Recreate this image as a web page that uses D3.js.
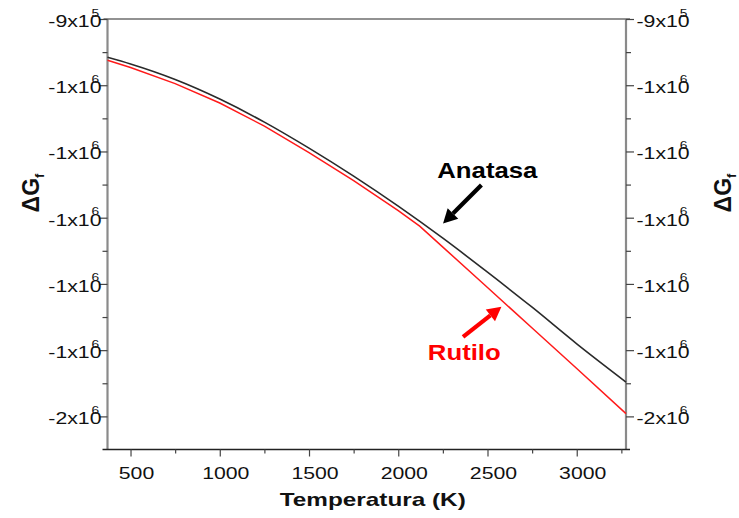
<!DOCTYPE html>
<html>
<head>
<meta charset="utf-8">
<script src="https://cdn.jsdelivr.net/npm/d3@7"></script>
<style>
  html, body { margin: 0; padding: 0; background: #fff; }
  svg { display: block; font-family: "Liberation Sans", Arial, Helvetica, sans-serif; }
</style>
</head>
<body>
<svg id="chart" width="739" height="518"></svg>
<script>
// Free energy of formation of TiO2 polymorphs vs temperature
const anatasaT = [371, 500, 750, 1000, 1250, 1500, 1750, 2000, 2250, 2500, 2750, 3000, 3276];
const anatasaG = [-957900, -968000, -991400, -1020900, -1055700, -1095000, -1137300,
                  -1182600, -1231000, -1282300, -1335200, -1390400, -1448100];

const rutiloT = [371, 500, 750, 1000, 1250, 1500, 1750, 2000, 2120, 2250, 2500, 2750, 3000, 3276];
const rutiloG = [-962400, -973300, -997500, -1026900, -1061700, -1101700, -1144100,
                 -1189400, -1212800, -1244400, -1305500, -1366500, -1427700, -1495900];

const xTicks = [500, 1000, 1500, 2000, 2500, 3000];
const xMinorTicks = [750, 1250, 1750, 2250, 2750, 3250];
const yTicks = [-900000, -1000000, -1100000, -1200000, -1300000, -1400000, -1500000];
const yMinorTicks = [-950000, -1050000, -1150000, -1250000, -1350000, -1450000];

// Labels with arrows, anchored in data coordinates: [T, G]
const annotations = [
  { name: "Anatasa", color: "#000", text: [2499, -1140200], tail: [2466, -1150800], tip: [2251, -1208600] },
  { name: "Rutilo",  color: "#ff0000", text: [2370, -1415100], tail: [2363, -1379900], tip: [2578, -1334600] }
];

const svg = d3.select("#chart");
const plot = { left: 107.5, right: 626, top: 19, bottom: 449.5 };

const x = d3.scaleLinear().domain([371, 3276]).range([plot.left, plot.right]);
const y = d3.scaleLinear().domain([-1550000, -900000]).range([plot.bottom, plot.top]);

const STRETCH = 1.25;
const tickFont = 17;

// frame: gray verticals and top line, dark baseline
const frame = svg.append("g");
frame.append("line").attr("x1", plot.left).attr("x2", plot.left).attr("y1", plot.top).attr("y2", plot.bottom)
  .attr("stroke", "#8a8a8a").attr("stroke-width", 2.2);
frame.append("line").attr("x1", plot.right).attr("x2", plot.right).attr("y1", plot.top).attr("y2", plot.bottom)
  .attr("stroke", "#8a8a8a").attr("stroke-width", 2.2);
frame.append("line").attr("x1", plot.left - 4).attr("x2", plot.right + 4).attr("y1", plot.top).attr("y2", plot.top)
  .attr("stroke", "#6e6e6e").attr("stroke-width", 1.4);
frame.append("line").attr("x1", plot.left - 5).attr("x2", plot.right + 4).attr("y1", plot.bottom).attr("y2", plot.bottom)
  .attr("stroke", "#222").attr("stroke-width", 1.6);

// y axes (tick marks; labels drawn separately)
function yTickMarks(side) {
  const xpos = side === "left" ? plot.left : plot.right;
  [[yTicks, 8], [yMinorTicks, 5]].forEach(([vals, size]) => {
    const axis = side === "left" ? d3.axisLeft(y) : d3.axisRight(y);
    const g = svg.append("g").attr("transform", `translate(${xpos},0)`)
      .call(axis.tickValues(vals).tickSize(size).tickFormat(""));
    g.select(".domain").remove();
    g.selectAll(".tick line").attr("stroke", "#444").attr("stroke-width", 1.2);
  });
}
yTickMarks("left");
yTickMarks("right");

// x axis ticks
[[xTicks, 7], [xMinorTicks, 4]].forEach(([vals, size]) => {
  const g = svg.append("g").attr("transform", `translate(0,${plot.bottom})`)
    .call(d3.axisBottom(x).tickValues(vals).tickSize(size).tickFormat(""));
  g.select(".domain").remove();
  g.selectAll(".tick line").attr("stroke", "#444").attr("stroke-width", 1.2);
});

// x tick labels
svg.append("g").selectAll("text").data(xTicks).join("text")
  .attr("transform", d => `translate(${x(d) + 6},${plot.bottom + 29}) scale(${STRETCH},1)`)
  .attr("text-anchor", "middle").attr("font-size", tickFont).attr("fill", "#111")
  .text(d => d);

// scientific labels: mantissa "x10" plus a raised exponent
function sciParts(v) {
  const e = Math.floor(Math.log10(Math.abs(v)) + 1e-9);
  const m = Math.sign(v) * Math.round(Math.abs(v) / Math.pow(10, e));
  return { main: m + "x10", exp: String(e) };
}

function yLabels(side) {
  const g = svg.append("g");
  yTicks.forEach(v => {
    const p = sciParts(v);
    const lx = side === "left" ? plot.left - 6 : plot.right + 10.5;
    const lg = g.append("g").attr("transform", `translate(${lx},${y(v) + 8}) scale(${STRETCH},1)`);
    const t = lg.append("text").attr("font-size", tickFont).attr("fill", "#111")
      .attr("text-anchor", side === "left" ? "end" : "start").text(p.main);
    const w = t.node().getComputedTextLength();
    const endX = side === "left" ? 0 : w;
    lg.append("text").attr("font-size", 11).attr("fill", "#111")
      .attr("x", endX - 8).attr("y", -10.5).text(p.exp);
  });
}
yLabels("left");
yLabels("right");

// curves
const lineA = d3.line().x(d => x(d[0])).y(d => y(d[1])).curve(d3.curveMonotoneX);
const lineR = d3.line().x(d => x(d[0])).y(d => y(d[1]));

svg.append("path").datum(anatasaT.map((t, i) => [t, anatasaG[i]]))
  .attr("d", lineA).attr("fill", "none").attr("stroke", "#2a2a2a").attr("stroke-width", 1.6);
svg.append("path").datum(rutiloT.map((t, i) => [t, rutiloG[i]]))
  .attr("d", lineR).attr("fill", "none").attr("stroke", "#ff1a1a").attr("stroke-width", 1.5);

// annotation arrows and labels
annotations.forEach(a => {
  const x0 = x(a.tail[0]), y0 = y(a.tail[1]);
  const x1 = x(a.tip[0]), y1 = y(a.tip[1]);
  const ang = Math.atan2(y1 - y0, x1 - x0);
  const headLen = 14, headHalf = 7.5;
  const bx = x1 - headLen * Math.cos(ang), by = y1 - headLen * Math.sin(ang);
  svg.append("line").attr("x1", x0).attr("y1", y0).attr("x2", bx).attr("y2", by)
    .attr("stroke", a.color).attr("stroke-width", 4.2);
  const px = -Math.sin(ang), py = Math.cos(ang);
  svg.append("path")
    .attr("d", `M${x1},${y1}L${bx + px * headHalf},${by + py * headHalf}L${bx - px * headHalf},${by - py * headHalf}Z`)
    .attr("fill", a.color);
  svg.append("text")
    .attr("transform", `translate(${x(a.text[0])},${y(a.text[1])}) scale(1.17,1)`)
    .attr("text-anchor", "middle").attr("font-size", 22).attr("font-weight", "bold")
    .attr("fill", a.color).text(a.name);
});

// axis titles
svg.append("text")
  .attr("transform", `translate(${(plot.left + plot.right) / 2 + 6},506) scale(1.28,1)`)
  .attr("text-anchor", "middle").attr("font-size", 19).attr("font-weight", "bold").attr("fill", "#111")
  .text("Temperatura (K)");

function gTitle(cx, cy) {
  const t = svg.append("text")
    .attr("transform", `translate(${cx},${cy}) rotate(-90)`)
    .attr("text-anchor", "middle").attr("font-size", 23).attr("font-weight", "bold").attr("fill", "#111");
  t.append("tspan").text("ΔG");
  t.append("tspan").attr("font-size", 13).attr("dy", 5).text("f");
}
gTitle(39, 193);
gTitle(731, 193);
</script>
</body>
</html>
